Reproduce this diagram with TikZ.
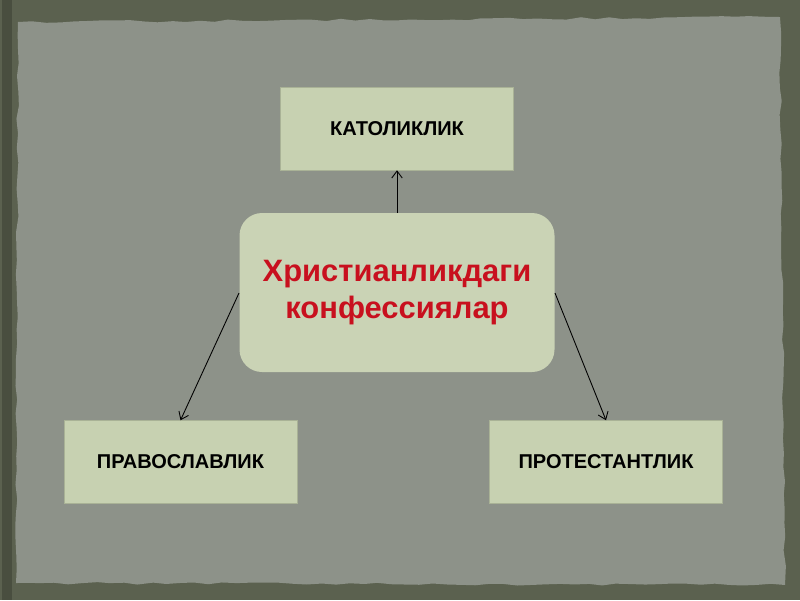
\documentclass[tikz,border=0pt]{standalone}
\usepackage{fontspec}
\setmainfont{Liberation Sans}
\usetikzlibrary{arrows.meta,decorations.pathmorphing}
\definecolor{bgdark}{HTML}{5B614F}
\definecolor{paper}{HTML}{8D9289}
\definecolor{boxfill}{HTML}{C7D1B1}
\definecolor{redtxt}{HTML}{C8101E}
\begin{document}
\begin{tikzpicture}[x=0.02cm,y=-0.02cm,
  leaf/.style={draw=boxfill!85!black,line width=0.3pt,fill=boxfill,minimum width=233*0.02cm,minimum height=83*0.02cm,inner sep=0pt,font=\fontsize{11.4}{13}\selectfont\bfseries},
  hub/.style={fill=boxfill!95!white,rounded corners=0.45cm,minimum width=315*0.02cm,minimum height=159*0.02cm,inner sep=0pt,align=center,text=redtxt,font=\fontsize{17.6}{20.8}\selectfont\bfseries},
  link/.style={-{Straight Barb[length=4pt,width=6pt]},line width=0.5pt,black}]
\useasboundingbox (0,0) rectangle (800,600);
\fill[bgdark] (0,0) rectangle (800,600);
\fill[bgdark!80!black] (2,0) rectangle (12,600);
\fill[paper,decorate,decoration={random steps,segment length=8pt,amplitude=0.7pt}]
  (18,22) -- (780,17) -- (785,585) -- (16,583) -- cycle;
\node[leaf] (kat) at (397,128.5) {КАТОЛИКЛИК};
\node[hub] (hub) at (397,292.5) {Христианликдаги\\конфессиялар};
\node[leaf] (pra) at (180.5,462) {ПРАВОСЛАВЛИК};
\node[leaf] (pro) at (606,462) {ПРОТЕСТАНТЛИК};
\coordinate (hl) at (239,293);
\coordinate (hr) at (555,293);
\draw[link] (hub.north) -- (kat.south);
\draw[link] (hl) -- (pra.north);
\draw[link] (hr) -- (pro.north);
\end{tikzpicture}
\end{document}
